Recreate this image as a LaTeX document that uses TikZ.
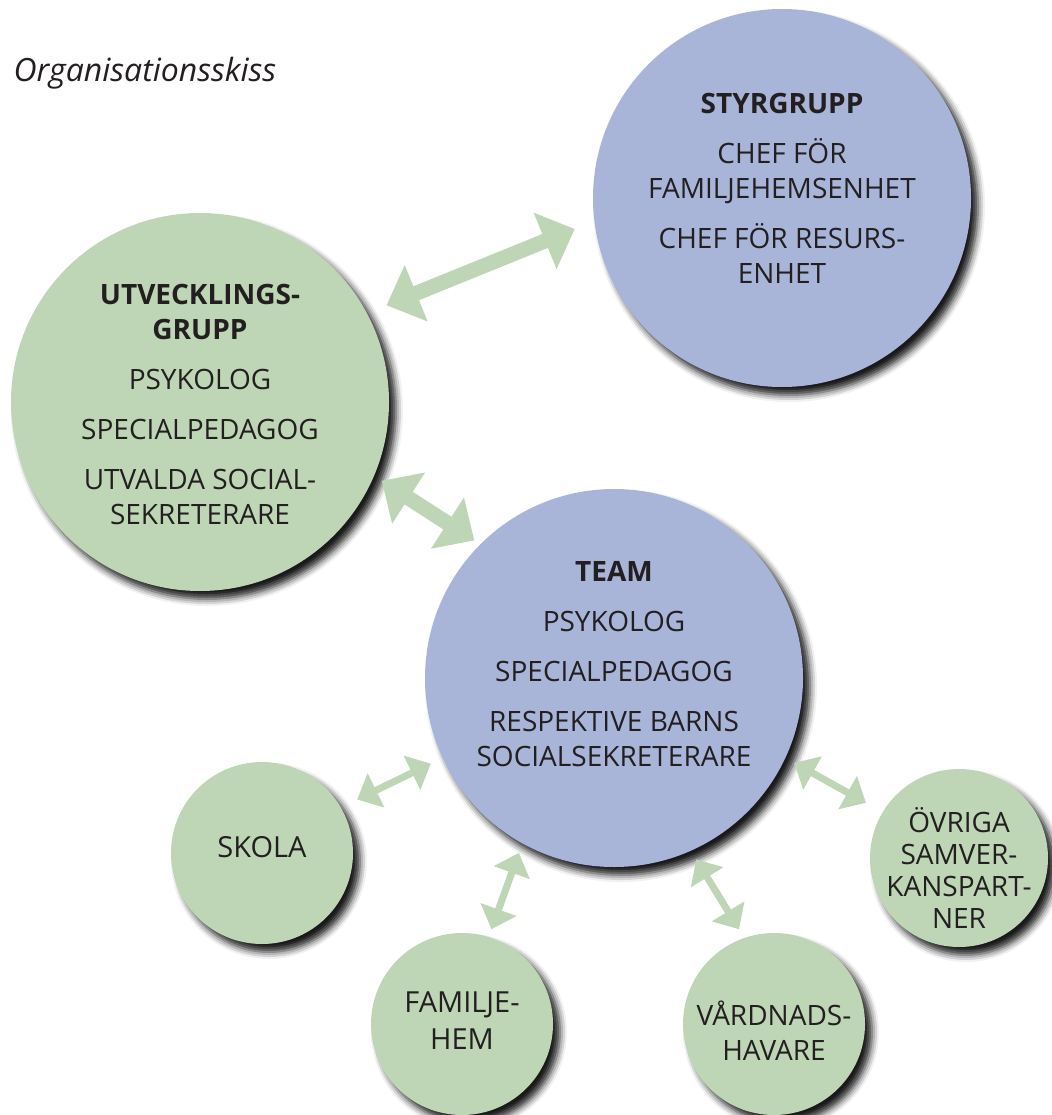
\documentclass[tikz,border=0pt]{standalone}
\usepackage{fontspec}
\setmainfont{Open Sans}
\usetikzlibrary{arrows.meta,shadows.blur}
\definecolor{grpgreen}{RGB}{190,214,182}
\definecolor{grpblue}{RGB}{168,181,217}
\definecolor{grptext}{RGB}{35,31,32}
\tikzset{x=1pt, y=-1pt,
	circshadow/.style={blur shadow={shadow xshift=7pt, shadow yshift=-8pt, shadow blur radius=7pt, shadow opacity=90}},
	bigcirc/.style={circle, circshadow, minimum size=378pt, inner sep=0pt},
	smallcirc/.style={circle, circshadow, minimum size=182pt, inner sep=0pt},
	greenfill/.style={fill=grpgreen},
	bluefill/.style={fill=grpblue},
	grouptext/.style={align=center, text=grptext, font=\fontsize{28}{35}\selectfont},
	bigarrow/.style={draw=grpgreen, line width=15pt, {Triangle[length=32pt,width=59pt]}-{Triangle[length=32pt,width=59pt]}},
	smallarrow/.style={draw=grpgreen, line width=7pt, {Triangle[length=21pt,width=37pt]}-{Triangle[length=21pt,width=37pt]}}}

\begin{document}
\begin{tikzpicture}
	\useasboundingbox (0,0) rectangle (1051,1115);

	\node[anchor=base west, text=grptext, font=\fontsize{32}{38}\selectfont\itshape] (title) at (10,82) {Organisationsskiss};

	% groups
	\node[bigcirc, bluefill] (styr) at (782,198) {};
	\node[bigcirc, greenfill] (utv) at (200,402) {};
	\node[bigcirc, bluefill] (team) at (614,678) {};
	\node[smallcirc, greenfill] (skola) at (262,853) {};
	\node[smallcirc, greenfill] (fam) at (462,1024) {};
	\node[smallcirc, greenfill] (vard) at (774,1024) {};
	\node[smallcirc, greenfill, minimum size=178pt] (ovr) at (959,858) {};

	\node[grouptext] (styrtext) at ([yshift=10pt]styr.center) {\textbf{STYRGRUPP}\\[15pt] CHEF FÖR\\ FAMILJEHEMSENHET\\[15pt] CHEF FÖR RESURS-\\ ENHET};
	\node[grouptext] (utvtext) at ([yshift=-2pt]utv.center) {\textbf{UTVECKLINGS-}\\ \textbf{GRUPP}\\[15pt] PSYKOLOG\\[15pt] SPECIALPEDAGOG\\[15pt] UTVALDA SOCIAL-\\ SEKRETERARE};
	\node[grouptext] (teamtext) at ([yshift=14pt]team.center) {\textbf{TEAM}\\[15pt] PSYKOLOG\\[15pt] SPECIALPEDAGOG\\[15pt] RESPEKTIVE BARNS\\ SOCIALSEKRETERARE};
	\node[grouptext, font=\fontsize{29}{37}\selectfont] (skolatext) at ([yshift=6pt]skola.center) {SKOLA};
	\node[grouptext, font=\fontsize{29}{37}\selectfont] (famtext) at ([yshift=3pt]fam.center) {FAMILJE-\\ HEM};
	\node[grouptext] (vardtext) at ([yshift=-7pt]vard.center) {VÅRDNADS-\\ HAVARE};
	\node[grouptext, font=\fontsize{28}{32}\selectfont] (ovrtext) at ([yshift=-10pt]ovr.center) {ÖVRIGA\\ SAMVER-\\ KANSPART-\\ NER};

	% connections
	\draw[bigarrow, shorten <=21pt, shorten >=21pt] (utv.28) -- (styr.187);
	\draw[bigarrow, shorten <=9pt, shorten >=7pt] (utv.337.6) -- (team.135.6);
	\draw[smallarrow, shorten <=18pt, shorten >=13pt] (skola.30.5) -- (team.205.5);
	\draw[smallarrow, shorten <=8pt, shorten >=10pt] (fam.73.6) -- (team.241.5);
	\draw[smallarrow, shorten <=10pt, shorten >=10pt] (vard.109.5) -- (team.294);
	\draw[smallarrow, shorten <=19pt, shorten >=10pt] (ovr.149.4) -- (team.335.6);
\end{tikzpicture}
\end{document}
